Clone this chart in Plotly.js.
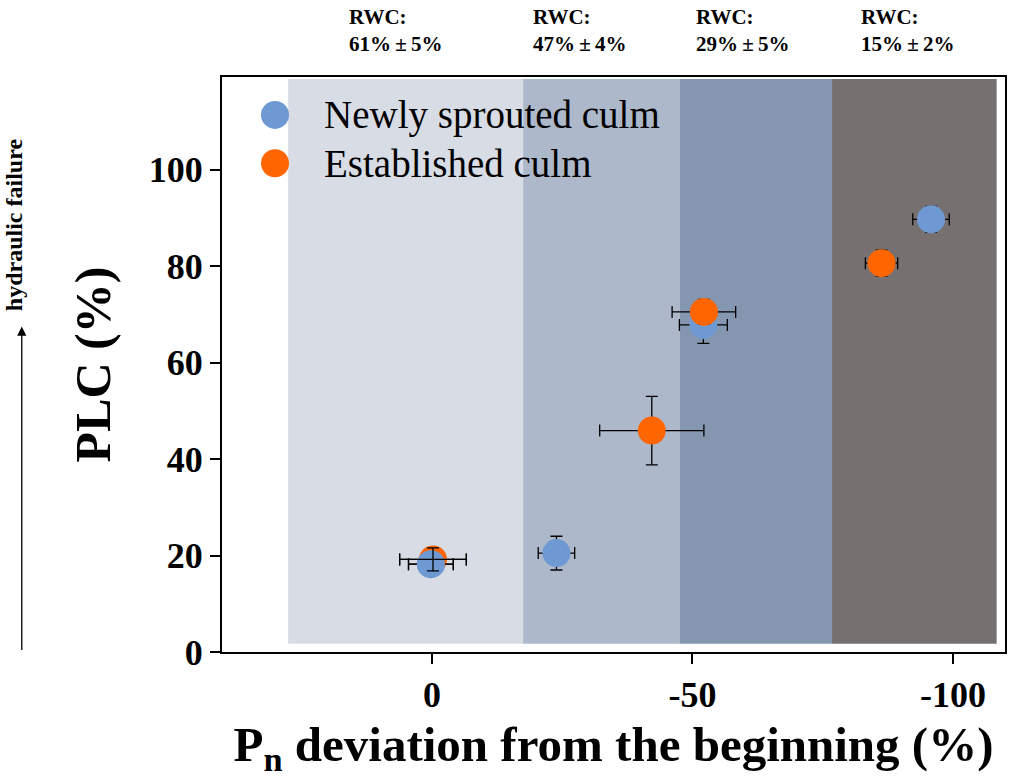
<!DOCTYPE html>
<html>
<head>
<meta charset="utf-8">
<script src="https://cdn.plot.ly/plotly-3.0.1.min.js"></script>
<style>
  html, body { margin: 0; padding: 0; background: #ffffff; }
  #chart { width: 1010px; height: 782px; }
</style>
</head>
<body>
<div id="chart"></div>
<script>
// Pn deviation (%) and PLC (%) with their error bars
const pnNewly = [0.2, -23.9, -52.1, -95.8];
const plcNewly = [18.2, 20.5, 67.8, 89.7];
const pnErrNewly = [4.3, 3.5, 4.6, 3.5];
const plcErrNewly = [2.3, 3.5, 3.8, 2.7];

const pnEst = [-0.2, -42.2, -52.2, -86.3];
const plcEst = [19.2, 45.9, 70.5, 80.6];
const pnErrEst = [6.4, 10.0, 6.1, 3.1];
const plcErrEst = [2.4, 7.1, 2.6, 2.7];

// background stages (RWC)
const stageEdges = [27.6, -17.5, -47.6, -76.8, -108.4];
const stageColors = ['#d7dce5', '#adb9cb', '#8597b0', '#767071'];
const stageLabels = ['RWC:<br>61%\u2009±\u20095%', 'RWC:<br>47%\u2009±\u20094%', 'RWC:<br>29%\u2009±\u20095%', 'RWC:<br>15%\u2009±\u20092%'];
const stageLabelX = [0.160, 0.395, 0.603, 0.814];

const seriesNames = ['Newly sprouted culm', 'Established culm'];
const seriesColors = ['#6f99d3', '#ff6600'];

const serif = 'Liberation Serif, Times New Roman, serif';

function pointTrace(x, y, ex, ey, color, name, markerSize) {
    return {
        x: x,
        y: y,
        type: 'scatter',
        mode: 'markers',
        name: name,
        showlegend: false,
        marker: { size: markerSize, color: color, line: { width: 0 } },
        error_x: { type: 'data', array: ex, visible: true, color: '#000', thickness: 1.3, width: 6 },
        error_y: { type: 'data', array: ey, visible: true, color: '#000', thickness: 1.3, width: 6 }
    };
}

const first = arr => arr.slice(0, 1);

const traces = [
    pointTrace(pnNewly, plcNewly, pnErrNewly, plcErrNewly, seriesColors[0], seriesNames[0], 28),
    pointTrace(pnEst, plcEst, pnErrEst, plcErrEst, seriesColors[1], seriesNames[1], 28),
    // at 0 the newly sprouted dot lies over the established one, error bars still on top
    pointTrace(first(pnNewly), first(plcNewly), first(pnErrNewly), first(plcErrNewly), seriesColors[0], seriesNames[0], 28),
    pointTrace(first(pnEst), first(plcEst), first(pnErrEst), first(plcErrEst), 'rgba(0,0,0,0)', seriesNames[1], 0)
];

const shapes = [];
for (let i = 0; i < stageColors.length; i++) {
    shapes.push({
        type: 'rect', xref: 'x', yref: 'y', layer: 'below',
        x0: stageEdges[i], x1: stageEdges[i + 1], y0: 1.7, y1: 118.8,
        fillcolor: stageColors[i], line: { width: 0 }
    });
}

// hand drawn legend
const legendY = [0.934, 0.850];
const annotations = [];
for (let i = 0; i < seriesNames.length; i++) {
    shapes.push({
        type: 'circle', xref: 'paper', yref: 'paper',
        xsizemode: 'pixel', ysizemode: 'pixel',
        xanchor: 0.0677, yanchor: legendY[i],
        x0: -14, x1: 14, y0: -14, y1: 14,
        fillcolor: seriesColors[i], line: { width: 0 }
    });
    annotations.push({
        xref: 'paper', yref: 'paper', x: 0.128, y: legendY[i],
        xanchor: 'left', yanchor: 'middle', showarrow: false,
        text: seriesNames[i], font: { family: serif, size: 39, color: '#000' }
    });
}

for (let i = 0; i < stageLabels.length; i++) {
    annotations.push({
        xref: 'paper', yref: 'paper', x: stageLabelX[i], y: 1.128,
        xanchor: 'left', yanchor: 'top', align: 'left', showarrow: false,
        text: '<b>' + stageLabels[i] + '</b>',
        font: { family: serif, size: 21, color: '#000' }
    });
}

// side arrow
annotations.push({
    xref: 'paper', yref: 'paper', x: -0.2557, y: 0.566,
    text: '', showarrow: true, ax: 0, ay: 325,
    arrowhead: 2, arrowsize: 1.4, arrowwidth: 1.3, arrowcolor: '#000'
});
annotations.push({
    xref: 'paper', yref: 'paper', x: -0.2657, y: 0.744,
    xanchor: 'center', yanchor: 'middle', textangle: -90, showarrow: false,
    text: '<b>hydraulic failure</b>', font: { family: serif, size: 24, color: '#000' }
});

const layout = {
    width: 1010,
    height: 782,
    margin: { l: 222, r: 5, t: 77, b: 130 },
    paper_bgcolor: '#ffffff',
    plot_bgcolor: '#ffffff',
    showlegend: false,
    font: { family: serif, color: '#000' },
    xaxis: {
        range: [40.3, -110.0],
        tickvals: [0, -50, -100],
        ticktext: ['<b>0</b>', '<b>-50</b>', '<b>-100</b>'],
        tickfont: { family: serif, size: 36, color: '#000' },
        ticks: 'outside', ticklen: 10, tickwidth: 2, tickcolor: '#000',
        showline: true, linecolor: '#000', linewidth: 2, mirror: true,
        showgrid: false, zeroline: false,
        title: {
            text: '<b>P<sub>n</sub> deviation from the beginning (%)</b>',
            font: { family: serif, size: 49, color: '#000' },
            standoff: 12
        }
    },
    yaxis: {
        range: [0, 119.2],
        tickvals: [0, 20, 40, 60, 80, 100],
        ticktext: ['<b>0</b>', '<b>20</b>', '<b>40</b>', '<b>60</b>', '<b>80</b>', '<b>100</b>'],
        tickfont: { family: serif, size: 36, color: '#000' },
        ticks: 'outside', ticklen: 10, tickwidth: 2, tickcolor: '#000',
        showline: true, linecolor: '#000', linewidth: 2, mirror: true,
        showgrid: false, zeroline: false,
        title: {
            text: '<b>PLC (%)</b>',
            font: { family: serif, size: 50, color: '#000' },
            standoff: 22
        }
    },
    shapes: shapes,
    annotations: annotations
};

Plotly.newPlot('chart', traces, layout, { displayModeBar: false, staticPlot: true });
</script>
</body>
</html>
